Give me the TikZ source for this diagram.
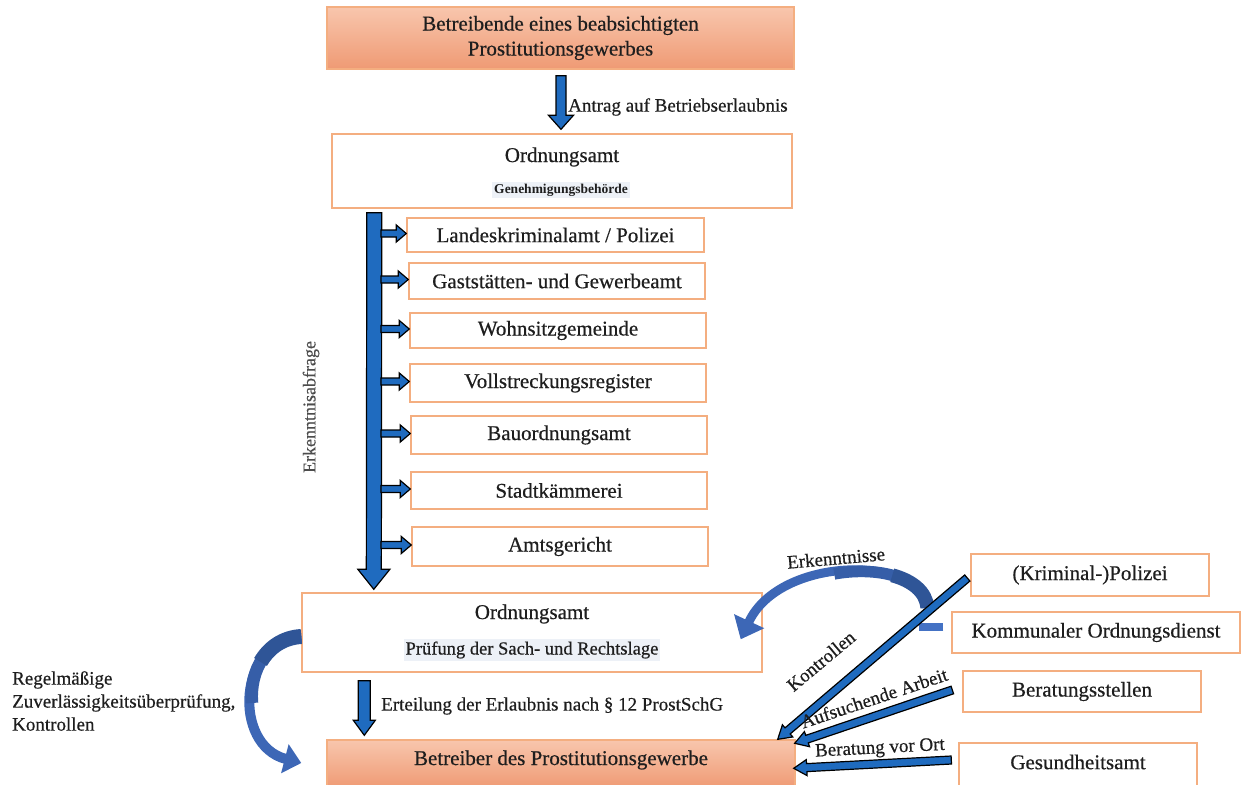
\documentclass[tikz,border=0pt]{standalone}
\usepackage{fontspec}
\setmainfont{Liberation Serif}[UprightFeatures={FakeBold=0.5}]
\usetikzlibrary{calc,arrows.meta}
\definecolor{boxorange}{HTML}{F4AE80}
\definecolor{salmonT}{HTML}{F8C6AD}
\definecolor{salmonB}{HTML}{EF9A74}
\definecolor{arrblue}{HTML}{1F6BBF}
\definecolor{curveblue}{HTML}{3D67B6}
\definecolor{curvemid}{HTML}{365EA8}
\definecolor{curvedark}{HTML}{2F5597}
\definecolor{stubblue}{HTML}{4472C4}
\definecolor{hlgrey}{HTML}{EDF1F7}
\definecolor{txt}{HTML}{1E1E1E}
\newcommand\blockarrow[5]{%
  \coordinate (ba) at (#1);
  \coordinate (bb) at (#2);
  \coordinate (bh) at ($(bb)!#5!(ba)$);
  \draw[barrow] ($(ba)!#3!90:(bb)$) -- ($(bh)!#3!-90:(ba)$) -- ($(bh)!#4!-90:(ba)$) -- (bb)
     -- ($(bh)!#4!90:(ba)$) -- ($(bh)!#3!90:(ba)$) -- ($(ba)!#3!-90:(bb)$) -- cycle;
}
\begin{document}
\begin{tikzpicture}[x=1pt,y=-1pt,
  box/.style={draw=boxorange, line width=1.4pt, fill=white, inner sep=0pt},
  obox/.style={draw=boxorange, line width=1.4pt, top color=salmonT, bottom color=salmonB, inner sep=0pt},
  big/.style={text=txt, font=\fontsize{21}{25}\selectfont, align=center},
  lab/.style={text=txt, font=\fontsize{19}{23}\selectfont, inner sep=0pt},
  hltext/.style={text=txt, fill=hlgrey, inner sep=2pt},
  barrow/.style={draw=black, line width=1.2pt, fill=arrblue, line join=miter},
  curvearrow/.style={draw=curveblue, line cap=butt},
]
\useasboundingbox (0,0) rectangle (1249,784);

% top box
\node[obox, big, minimum width=467, minimum height=62] (top) at (560.5,38)
  {Betreibende eines beabsichtigten\\Prostitutionsgewerbes};

% Ordnungsamt 1
\node[box, minimum width=460, minimum height=74] (amt1) at (562,171) {};
\node[big, inner sep=0pt] (amt1t) at (562,157) {Ordnungsamt};
\node[hltext, font=\bfseries\fontsize{13.5}{16}\selectfont] (amt1s) at (561,190) {Genehmigungsbehörde};

% side boxes
\node[box, big, minimum width=297, minimum height=34] (b1) at (555.5,235) {Landeskriminalamt / Polizei};
\node[box, big, minimum width=296, minimum height=36] (b2) at (557,281) {Gaststätten- und Gewerbeamt};
\node[box, big, minimum width=296, minimum height=35] (b3) at (558,330.5) {Wohnsitzgemeinde};
\node[box, big, minimum width=296, minimum height=38] (b4) at (558,383) {Vollstreckungsregister};
\node[box, big, minimum width=296, minimum height=38] (b5) at (559,435) {Bauordnungsamt};
\node[box, big, minimum width=296, minimum height=37] (b6) at (559,490.5) {Stadtkämmerei};
\node[box, big, minimum width=296, minimum height=39] (b7) at (560,546.5) {Amtsgericht};

% Ordnungsamt 2
\node[box, minimum width=460, minimum height=79] (amt2) at (532,632.5) {};
\node[big, inner sep=0pt] (amt2t) at (532,614) {Ordnungsamt};
\node[hltext, font=\fontsize{18.5}{22}\selectfont] (amt2s) at (532,650) {Prüfung der Sach- und Rechtslage};

% bottom box
\node[obox, minimum width=468, minimum height=48] (bot) at (561,764) {};
\node[big, inner sep=0pt] (bott) at (561,760) {Betreiber des Prostitutionsgewerbe};

% right boxes
\node[box, big, minimum width=238, minimum height=42] (kp) at (1090,575) {(Kriminal-)Polizei};
\node[box, big, minimum width=288, minimum height=41] (kod) at (1096,632.5) {Kommunaler Ordnungsdienst};
\node[box, big, minimum width=238, minimum height=41] (bst) at (1082,691.5) {Beratungsstellen};
\node[box, minimum width=238, minimum height=47] (gsa) at (1078,766.5) {};
\node[big, inner sep=0pt] (gsat) at (1078,762) {Gesundheitsamt};

% arrow 1
\blockarrow{$(amt1.north |- top.south)+(-1,6)$}{$(amt1.north)+(-1,-4)$}{5pt}{12.5pt}{14pt}
\node[lab, anchor=west] (l1) at (568,107) {Antrag auf Betriebserlaubnis};

% long arrow
\blockarrow{$(amt1.south west)+(43,4)$}{$(amt2.north west)+(72.5,-3)$}{7.5pt}{16pt}{20pt}
\coordinate (shaftR) at (381,0);
\foreach \b in {b1,b2,b3,b4,b5,b6,b7}{
  \blockarrow{$(shaftR |- \b.west)+(0,-1.5)$}{$(\b.west)+(0,-1.5)$}{3.5pt}{8.5pt}{10pt}
}
\node[text=black!70, font=\fontsize{18}{22}\selectfont, rotate=90, inner sep=0pt] (l2) at (311,407) {Erkenntnisabfrage};

% arrow 3
\blockarrow{$(amt2.south west)+(63,8)$}{$(bot.north west)+(38,-4)$}{6pt}{11pt}{15pt}
\node[lab, anchor=west] (l3) at (381,706) {Erteilung der Erlaubnis nach § 12 ProstSchG};

% left curved arrow, tapering from its start
\coordinate (lcs) at ($(amt2.west)+(0,4)$);
\coordinate (lce) at ($(bot.west)+(-25,-1)$);
\draw[curvearrow, line width=10pt, -{Triangle[length=17pt,width=29pt]}]
  (lcs) .. controls (238,640) and (232,745) .. (lce);
\draw[curvemid, line width=12.5pt, line cap=butt]
  (lcs) .. controls (266.8,638.4) and (249.15,671.05) .. (252.03,703.0);
\draw[curvedark, line width=15pt, line cap=butt]
  (lcs) .. controls (282.8,637.55) and (268.82,647.7) .. (260.55,661.96);
\node[lab, anchor=west, align=left] (l4) at (12,701) {Regelmäßige\\Zuverlässigkeitsüberprüfung,\\Kontrollen};

% Erkenntnisse curved arrow, tapering from its start
\coordinate (ecs) at ($(kod.west)+(-24,-25)$);
\coordinate (ece) at ($(amt2.north east)+(-22,47)$);
\draw[curvearrow, line width=9pt, -{Triangle[length=20pt,width=32pt]}]
  (ecs) .. controls (922,555) and (780,555) .. (ece);
\draw[curvemid, line width=11.5pt, line cap=butt]
  (ecs) .. controls (924.7,578.6) and (880.25,565.6) .. (834.3,573.9);
\draw[curvedark, line width=14pt, line cap=butt]
  (ecs) .. controls (926.2,591.75) and (912.16,580.7) .. (892.3,575.3);
\draw[stubblue, line width=8pt] ($(kod.west)+(-8,-5.5)$) -- ($(kod.west)+(-32,-5.5)$);
\node[lab, rotate=5] (l5) at (836,558) {Erkenntnisse};

% diagonal arrows
\blockarrow{$(kp.west)+(-3,3)$}{$(bot.north east)+(-18,0)$}{4pt}{8pt}{13pt}
\blockarrow{$(bst.west)+(-10,-1.5)$}{$(bot.north east)+(-1,4)$}{4pt}{8pt}{13pt}
\blockarrow{$(gsa.west)+(-7,-6.5)$}{$(bot.north east)+(-2,29)$}{4pt}{8pt}{13pt}
\node[lab, rotate=40] (l6) at (821,661) {Kontrollen};
\node[lab, rotate=18.5] (l7) at (874,698) {Aufsuchende Arbeit};
\node[lab, rotate=3] (l8) at (880,749) {Beratung vor Ort};
\end{tikzpicture}
\end{document}
